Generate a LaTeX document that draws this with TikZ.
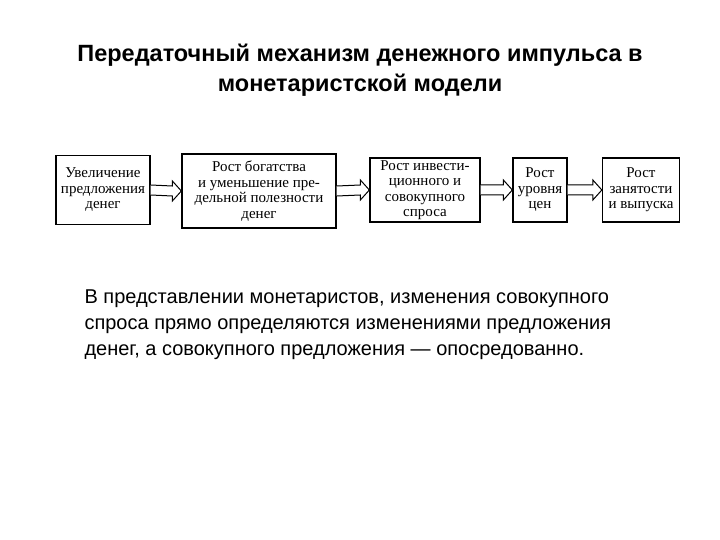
\documentclass[tikz,border=0pt]{standalone}
\usepackage{fontspec}
\setmainfont{Liberation Sans}
\newfontfamily\boxfont{Liberation Serif}
\begin{document}
\begin{tikzpicture}[x=1pt,y=-1pt,
  bx/.style={draw,line width=1.3pt,align=center,font=\boxfont\fontsize{15}{15.5}\selectfont,inner sep=0pt},
  harrow/.style={draw,line width=1pt,fill=white}]
\useasboundingbox (0,0) rectangle (720,540);
\node[font=\bfseries\fontsize{23.5}{30}\selectfont,align=center] (title) at (360,70) {Передаточный механизм денежного импульса в\\ монетаристской модели};
\node[bx,minimum width=94pt,minimum height=69pt] (b1) at (103,190) {Увеличение\\предложения\\денег};
\node[bx,minimum width=154pt,minimum height=74pt] (b2) at (259,191) {Рост богатства\\и уменьшение пре-\\дельной полезности\\денег};
\node[bx,minimum width=110pt,minimum height=64pt] (b3) at (425,190) {Рост инвести-\\ционного и\\совокупного\\спроса};
\node[bx,minimum width=54pt,minimum height=64pt] (b4) at (540,190) {Рост\\уровня\\цен};
\node[bx,minimum width=77pt,minimum height=64pt] (b5) at (641,190) {Рост\\занятости\\и выпуска};
\foreach \a/\b in {b1/b2,b2/b3,b3/b4,b4/b5}{
  \path (\a.east) coordinate (s) (\b.west) coordinate (e);
  \draw[harrow] ([yshift=-5]s) -- ([xshift=-9,yshift=-5]e) -- ([xshift=-9,yshift=-10]e) -- (e)
     -- ([xshift=-9,yshift=10]e) -- ([xshift=-9,yshift=5]e) -- ([yshift=5]s);
}
\node[font=\fontsize{20}{26}\selectfont,align=left,anchor=north west] (txt) at (81,286) {В представлении монетаристов, изменения совокупного\\спроса прямо определяются изменениями предложения\\денег, а совокупного предложения — опосредованно.};
\end{tikzpicture}
\end{document}
